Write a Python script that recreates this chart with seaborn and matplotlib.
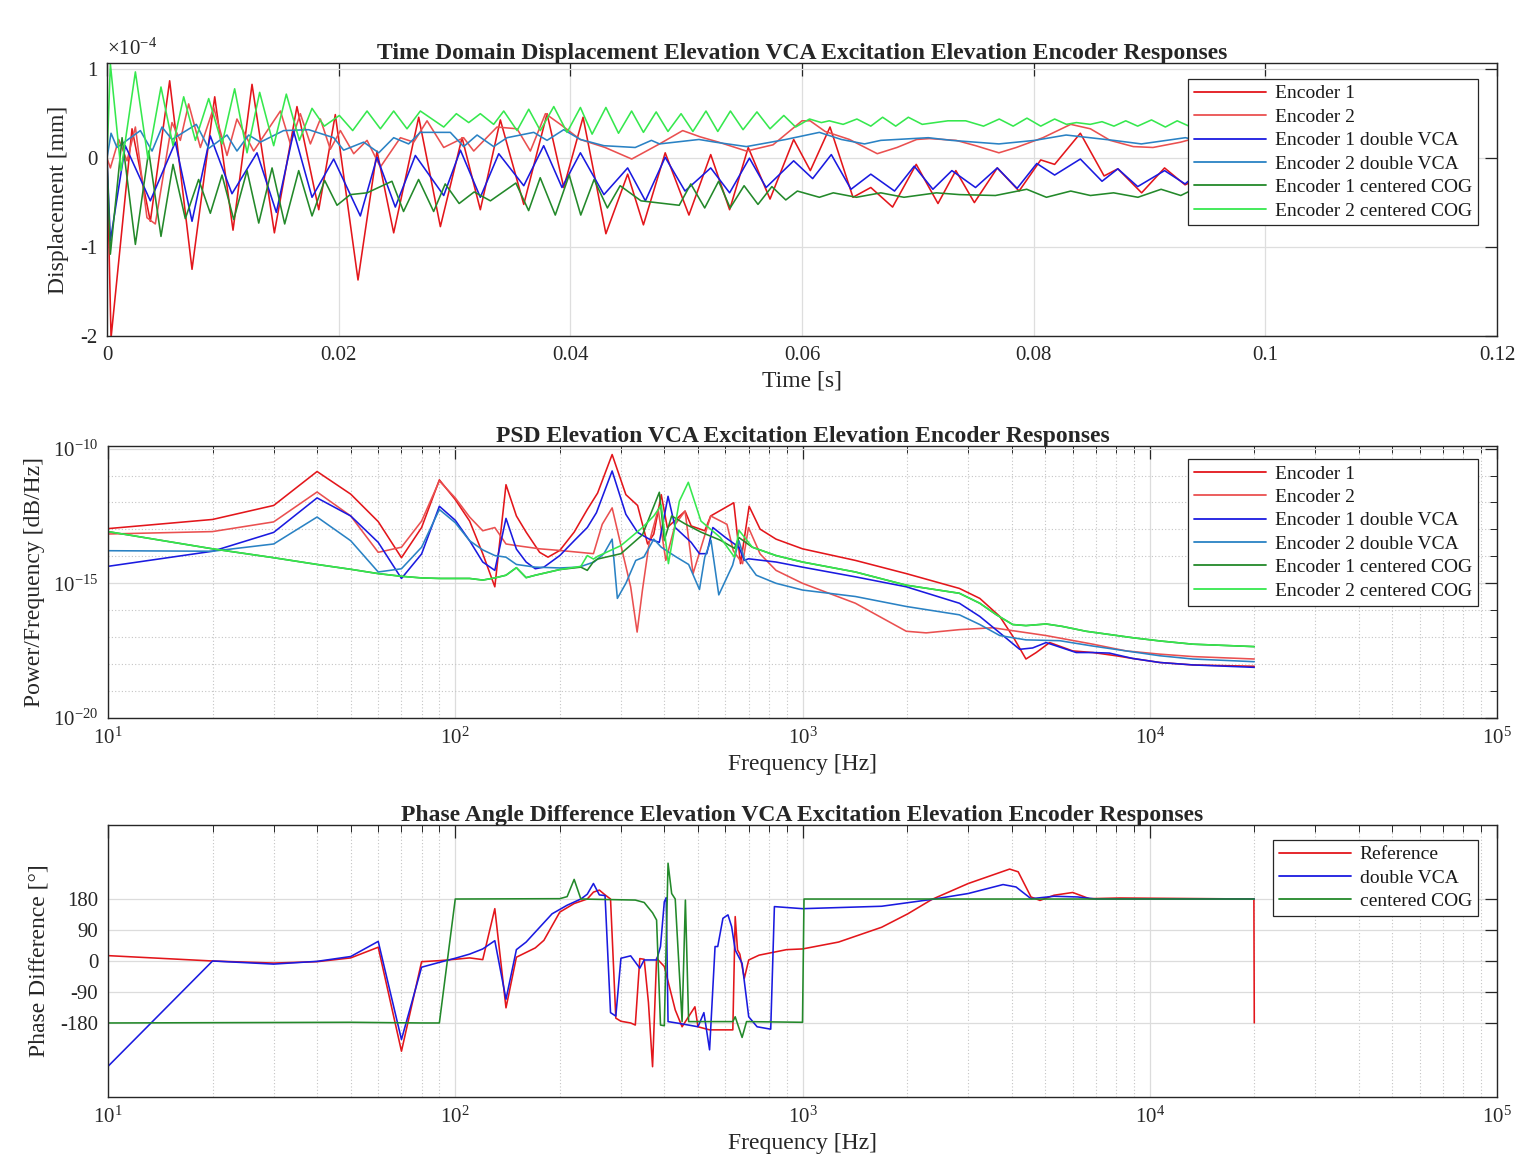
import numpy as np
import pandas as pd
import matplotlib
matplotlib.use("Agg")
import matplotlib.pyplot as plt
import matplotlib.ticker as mticker
from matplotlib.lines import Line2D
import seaborn as sns

# ---------------- data : time domain (t in ms, displacement in 1e-4 mm) ----------------
enc1_t = [0.0, 0.35, 2.16, 3.74, 5.41, 7.34, 9.30, 10.88, 12.52, 14.45, 16.40, 18.28, 19.71, 21.67, 23.31,
          24.75, 26.91, 28.78, 30.65, 32.23, 33.96, 35.98, 37.99, 39.43, 41.1, 43.07, 44.95, 46.31, 48.19,
          50.24, 52.12, 53.75, 55.36, 57.24, 59.28, 60.72, 62.42, 64.40, 65.94, 67.82, 69.86, 71.74, 73.28,
          74.88, 76.86, 78.74, 80.61, 81.81, 84.03, 86.08, 87.27, 89.32, 91.30, 93.07, 94.1]
enc1_v = [0.0, -2.02, 0.33, -0.71, 0.87, -1.25, 0.69, -0.81, 0.83, -0.84, 0.58, -0.58, 0.49, -1.37, 0.08,
          -0.84, 0.46, -0.77, 0.23, -0.58, 0.43, -0.52, 0.50, -0.33, 0.46, -0.85, -0.18, -0.75, 0.06,
          -0.64, 0.04, -0.58, 0.12, -0.46, 0.21, -0.14, 0.35, -0.44, -0.33, -0.55, -0.07, -0.51, -0.14,
          -0.50, -0.11, -0.37, -0.02, -0.07, 0.28, -0.20, -0.12, -0.39, -0.11, -0.30, -0.24]

enc2_t = [0, 0.29, 1.01, 1.73, 2.45, 3.45, 4.17, 5.61, 6.33, 7.05, 8.06, 9.21, 10.36, 11.22, 12.66, 14.97,
          15.83, 16.69, 17.56, 18.42, 19.28, 20.15, 21.30, 22.45, 23.60, 25.33, 26.48, 27.63, 29.07, 30.79,
          31.66, 33.67, 35.40, 36.55, 37.85, 39.14, 40.85, 43.0, 45.3, 47.7, 49.7, 51.2, 52.8, 55.2, 57.5,
          60.0, 60.7, 62.0, 64.1, 66.5, 68.2, 69.9, 71.0, 73.3, 75.0, 77.0, 78.5, 80.8, 83.2, 84.9, 86.6,
          88.6, 90.3, 92.7, 94.1]
enc2_v = [0, -0.11, 0.21, -0.03, 0.35, -0.67, -0.74, 0.40, 0.20, 0.61, 0.12, 0.57, 0.03, 0.44, 0.08, 0.53,
          0.16, 0.50, 0.16, 0.44, 0.10, 0.31, 0.05, 0.20, -0.10, 0.23, 0.18, 0.42, 0.12, 0.23,
          0.08, 0.35, 0.33, 0.08, 0.50, 0.38, 0.21, 0.12, -0.01, 0.16, 0.31, 0.24, 0.18, 0.08, 0.15,
          0.42, 0.42, 0.30, 0.21, 0.05, 0.12, 0.21, 0.22, 0.20, 0.14, 0.06, 0.12, 0.23, 0.38, 0.33, 0.20,
          0.13, 0.12, 0.18, 0.23]

enc1vca_t = [0, 0.29, 1.58, 3.74, 5.90, 7.34, 8.92, 10.79, 12.95, 14.62, 16.12, 17.70, 19.57, 21.87, 23.31,
             24.89, 26.62, 29.07, 30.51, 32.23, 33.82, 35.98, 37.70, 39.28, 40.87, 42.9, 44.95, 46.48, 48.19,
             49.9, 52.12, 53.75, 55.46, 56.9, 59.28, 60.92, 62.53, 64.23, 65.94, 67.99, 69.69, 71.3, 72.94,
             74.98, 76.86, 78.57, 80.27, 81.81, 84.03, 85.9, 87.27, 88.98, 91.3, 93.07, 94.1]
enc1vca_v = [0, -0.93, 0.14, -0.48, 0.18, -0.71, 0.25, -0.40, 0.06, -0.61, 0.30, -0.44, -0.01, -0.65, 0.01,
             -0.55, 0.03, -0.42, 0.09, -0.44, 0.05, -0.31, 0.14, -0.33, 0.06, -0.41, -0.11, -0.48, 0.01,
             -0.37, -0.11, -0.39, 0.0, -0.33, -0.03, -0.23, 0.04, -0.35, -0.18, -0.37, -0.09, -0.35, -0.14,
             -0.33, -0.11, -0.34, -0.06, -0.19, -0.01, -0.26, -0.12, -0.32, -0.14, -0.29, -0.18]

enc2vca_t = [0, 0.35, 0.86, 2.88, 3.89, 4.75, 5.61, 7.71, 8.78, 10.36, 11.22, 12.23, 13.24, 15.25, 17.41,
             19.57, 20.43, 22.16, 23.46, 24.75, 26.04, 27.05, 29.64, 30.79, 31.95, 33.38, 34.54, 36.84, 37.99,
             39.43, 40.87, 42.9, 45.6, 47.0, 47.7, 51.1, 52.5, 55.2, 58.6, 61.5, 63.4, 65.4, 66.8, 70.9, 72.9,
             77.0, 80.1, 82.8, 86.9, 89.3, 93.1, 94.1]
enc2vca_v = [0, 0.28, 0.12, 0.31, 0.08, 0.35, 0.21, 0.38, 0.11, 0.26, 0.08, 0.26, 0.18, 0.31, 0.32,
             0.23, 0.09, 0.18, 0.06, 0.23, 0.16, 0.29, 0.29, 0.13, 0.26, 0.13, 0.23, 0.29, 0.20,
             0.32, 0.21, 0.14, 0.12, 0.20, 0.16, 0.21, 0.18, 0.13, 0.21, 0.29, 0.21, 0.16, 0.20, 0.23, 0.20,
             0.16, 0.20, 0.26, 0.20, 0.16, 0.23, 0.20]

enc1cog_t = [0, 0.29, 1.30, 2.45, 3.60, 4.66, 5.70, 6.76, 7.91, 8.92, 9.93, 10.94, 12.09, 13.10, 14.25, 15.34,
             16.55, 17.70, 18.79, 19.86, 21.0, 22.45, 24.6, 25.6, 26.9, 28.2, 29.2, 30.4, 31.7, 33.1, 35.3,
             36.4, 37.4, 38.7, 39.9, 40.9, 42.05, 43.2, 44.3, 46.1, 49.4, 50.4, 51.6, 52.8, 53.8, 55.0, 56.2,
             57.4, 58.6, 59.6, 61.5, 62.7, 64.7, 66.8, 68.8, 71.6, 73.6, 76.7, 79.4, 81.1, 83.2, 84.9, 86.9,
             89.0, 91.0, 92.7, 93.8]
enc1cog_v = [0, -1.08, 0.23, -0.97, 0.08, -0.88, -0.07, -0.68, -0.24, -0.62, -0.19, -0.69, -0.14, -0.73, -0.11,
             -0.74, -0.14, -0.65, -0.25, -0.53, -0.41, -0.39, -0.26, -0.60, -0.24, -0.60, -0.29, -0.51, -0.38,
             -0.48, -0.28, -0.59, -0.22, -0.64, -0.19, -0.64, -0.24, -0.56, -0.31, -0.48, -0.53, -0.29, -0.56,
             -0.26, -0.56, -0.31, -0.52, -0.32, -0.47, -0.37, -0.44, -0.39, -0.44, -0.39, -0.44, -0.39, -0.41,
             -0.42, -0.35, -0.44, -0.37, -0.42, -0.39, -0.44, -0.35, -0.42, -0.35]

enc2cog_t = [0, 0.29, 1.21, 2.45, 3.54, 4.66, 5.70, 6.62, 7.63, 8.78, 9.93, 11.02, 12.09, 13.18, 14.39, 15.48,
             16.61, 17.70, 18.76, 20.06, 21.21, 22.45, 23.60, 24.75, 25.90, 27.05, 29.07, 30.16, 31.23, 32.23,
             33.38, 34.25, 35.40, 36.41, 37.41, 38.57, 39.72, 40.87, 41.88, 43.07, 44.16, 45.29, 46.31, 47.41,
             48.43, 49.56, 50.58, 51.71, 52.73, 53.82, 54.91, 56.11, 57.24, 58.43, 59.45, 60.65, 61.67, 62.35,
             63.55, 64.74, 65.94, 66.96, 68.09, 69.18, 70.38, 72.6, 74.13, 75.67, 77.03, 78.23, 79.42, 80.61,
             81.81, 82.83, 83.69, 84.88, 85.9, 86.93, 87.95, 88.98, 90.17, 91.37, 92.39, 93.41, 94.1]
enc2cog_v = [0, 1.06, -0.14, 0.97, -0.01, 0.80, 0.14, 0.69, 0.20, 0.67, 0.16, 0.78, 0.06, 0.74, 0.14, 0.72,
             0.20, 0.56, 0.36, 0.48, 0.31, 0.53, 0.33, 0.53, 0.33, 0.53, 0.35, 0.50, 0.40, 0.50,
             0.38, 0.53, 0.31, 0.55, 0.31, 0.58, 0.29, 0.57, 0.27, 0.57, 0.28, 0.53, 0.29, 0.52,
             0.30, 0.50, 0.30, 0.53, 0.30, 0.53, 0.32, 0.52, 0.33, 0.48, 0.35, 0.44, 0.40, 0.42,
             0.38, 0.44, 0.36, 0.46, 0.36, 0.46, 0.38, 0.42, 0.42, 0.36, 0.44, 0.36, 0.45, 0.36,
             0.44, 0.38, 0.40, 0.38, 0.41, 0.36, 0.42, 0.36, 0.43, 0.35, 0.42, 0.36, 0.39]

# ---------------- data : PSD (frequency Hz, log10 of PSD) ----------------
psd_enc1_f = [10, 20, 30, 40, 50, 60, 70, 80, 90, 100, 110, 120, 130, 140, 150, 160, 175, 185, 200, 220,
              240, 257, 283, 310, 335, 358, 373, 392, 408, 459, 478, 523, 544, 634, 663, 702, 755, 839, 1000, 1420,
              1990, 2830, 3240, 3700, 4030, 4400, 4710, 5150, 6000, 6860, 8000, 8930, 10700, 13300, 20000]
psd_enc1_log = [-12.97, -12.63, -12.11, -10.85, -11.69, -12.71, -14.05, -12.93, -11.16, -11.89,
                -12.69, -13.9, -15.13, -11.34, -12.5, -13.1, -13.85, -14.03, -13.78, -13.1,
                -12.26, -11.65, -10.22, -11.71, -12.11, -13.54, -13.17, -11.71, -12.93, -12.32,
                -12.87, -13.05, -12.5, -12.01, -14.27, -12.14, -12.99, -13.36, -13.72, -14.15,
                -14.64, -15.19, -15.56, -16.23, -16.96, -17.81, -17.57, -17.2, -17.51, -17.57,
                -17.69, -17.79, -17.94, -18.03, -18.08]

psd_enc2_f = [10, 20, 30, 40, 50, 60, 70, 80, 90, 100, 110, 120, 130, 140, 150, 175, 200, 250, 265, 283,
              320, 334, 346, 362, 384, 404, 430, 459, 484, 544, 606, 632, 672, 699, 755, 839, 1000, 1420, 1990, 2270,
              2830, 3530, 5030, 6860, 8550, 10700, 13300, 20000]
psd_enc2_log = [-13.17, -13.08, -12.72, -11.61, -12.5, -13.85, -13.66, -12.69, -11.2, -11.83,
                -12.54, -13.05, -12.93, -13.54, -13.6, -13.72, -13.78, -13.9, -12.81, -12.2,
                -15.13, -16.81, -15.25, -13.48, -12.26, -14.15, -12.81, -12.32, -14.64, -12.5,
                -12.81, -13.79, -14.27, -12.93, -13.91, -14.52, -15.0, -15.74, -16.78, -16.84,
                -16.72, -16.65, -16.94, -17.26, -17.51, -17.63, -17.72, -17.81]

psd_enc1vca_f = [10, 20, 30, 40, 50, 60, 70, 80, 90, 100, 110, 120, 130, 140, 150, 160, 170, 180, 200, 220,
                 240, 255, 283, 310, 335, 362, 387, 410, 430, 478, 505, 530, 552, 600, 656, 680, 699, 839, 1000, 1420,
                 1990, 2830, 3240, 3700, 4220, 4600, 5030, 6140, 6860, 7650, 8930, 10700, 13300, 20000]
psd_enc1vca_log = [-14.37, -13.81, -13.11, -11.83, -12.5, -13.48, -14.82, -13.91, -12.14, -12.66,
                   -13.42, -14.21, -14.52, -12.59, -13.73, -14.21, -14.46, -14.4, -13.97, -13.42,
                   -12.93, -12.38, -10.83, -12.44, -13.11, -13.36, -13.48, -11.77, -12.93, -13.48,
                   -13.9, -13.9, -12.93, -13.3, -13.66, -14.15, -14.09, -14.21, -14.4, -14.76,
                   -15.13, -15.74, -16.23, -16.84, -17.45, -17.4, -17.2, -17.57, -17.57, -17.59,
                   -17.79, -17.94, -18.03, -18.12]

psd_enc2vca_f = [10, 20, 30, 40, 50, 60, 70, 80, 90, 100, 110, 120, 130, 140, 150, 170, 200, 227, 251, 268,
                 283, 293, 310, 331, 349, 373, 392, 430, 470, 505, 523, 545, 574, 629, 656, 680, 736, 839, 1000, 1420,
                 1990, 2830, 3240, 3700, 4400, 5500, 6860, 8550, 10700, 13300, 20000]
psd_enc2vca_log = [-13.79, -13.81, -13.54, -12.54, -13.42, -14.58, -14.46, -13.66, -12.26, -12.75,
                   -13.42, -13.76, -13.97, -14.03, -14.3, -14.4, -14.43, -14.4, -14.21, -13.9,
                   -13.36, -15.56, -15.0, -14.15, -14.03, -13.36, -13.66, -14.0, -14.3, -15.23,
                   -14.03, -13.4, -15.43, -14.33, -13.42, -14.09, -14.7, -15.0, -15.25, -15.49,
                   -15.86, -16.17, -16.53, -16.94, -17.1, -17.13, -17.33, -17.51, -17.69, -17.81,
                   -17.91]

psd_enc1cog_f = [10, 20, 30, 40, 50, 60, 70, 80, 90, 100, 110, 120, 130, 140, 150, 160, 170, 200, 230, 240,
                 250, 257, 300, 346, 387, 400, 420, 460, 510, 580, 637, 656, 717, 839, 1000, 1420, 1990, 2830, 3240,
                 3620, 4030, 4400, 5030, 5600, 6550, 7650, 8930, 10700, 13300, 20000]
psd_enc1cog_log = [-13.08, -13.72, -14.05, -14.3, -14.48, -14.64, -14.74, -14.8, -14.82, -14.82,
                   -14.82, -14.88, -14.8, -14.7, -14.42, -14.79, -14.7, -14.49, -14.4, -14.52,
                   -14.2, -14.1, -13.9, -13.2, -11.62, -13.4, -12.5, -12.8, -13.1, -13.4,
                   -13.7, -13.3, -13.66, -13.97, -14.21, -14.58, -15.07, -15.37, -15.74, -16.17,
                   -16.53, -16.57, -16.51, -16.6, -16.78, -16.9, -17.02, -17.14, -17.26, -17.35]

psd_enc2cog_f = [10, 20, 30, 40, 50, 60, 70, 80, 90, 100, 110, 120, 130, 140, 150, 160, 170, 200, 230, 240,
                 250, 257, 300, 346, 373, 392, 411, 442, 469, 510, 580, 637, 656, 717, 839, 1000, 1420, 1990, 2830,
                 3240, 3620, 4030, 4400, 5030, 5600, 6550, 7650, 8930, 10700, 13300, 20000]
psd_enc2cog_log = [-13.08, -13.72, -14.05, -14.3, -14.48, -14.64, -14.74, -14.8, -14.82, -14.82,
                   -14.82, -14.88, -14.8, -14.7, -14.42, -14.79, -14.7, -14.49, -14.37, -13.97,
                   -14.1, -14.0, -13.6, -12.93, -12.5, -12.1, -14.27, -11.95, -11.25, -12.69,
                   -13.3, -14.03, -13.03, -13.66, -13.97, -14.21, -14.58, -15.07, -15.37, -15.74,
                   -16.17, -16.53, -16.57, -16.51, -16.6, -16.78, -16.9, -17.02, -17.14, -17.26,
                   -17.35]

# ---------------- data : phase difference (frequency Hz, degrees) ----------------
ph_ref_f = [10, 20, 30, 40, 50, 60, 70, 80, 90, 100, 110, 120, 130, 140, 150, 170, 180, 200, 220, 240,
            250, 260, 270, 280, 290, 300, 320, 330, 340, 350, 360, 370, 380, 400, 430, 450, 490, 500, 540, 630,
            640, 650, 660, 680, 700, 750, 900, 1000, 1270, 1690, 2010, 2360, 3000, 3950, 4180, 4550, 4830, 5300,
            6000, 6700, 8200, 19950, 20000]
ph_ref_deg = [15.6, 0, -6, -2, 9, 40, -262, -2, 1, 5, 9, 4, 152, -136, 11, 38, 60, 142, 167, 180,
              200, 206, 192, 180, -166, -175, -180, -186, 7, 5, -120, -307, 8, -16, -142, -191, -133, -191, -200, -200,
              129, 32, 20, -50, 3, 17, 33, 35, 55, 98, 137, 179, 225, 267, 259, 186, 176, 191,
              199, 181, 183, 180, -180]

ph_vca_f = [10, 20, 30, 40, 50, 60, 70, 80, 90, 100, 110, 120, 130, 140, 150, 160, 170, 190, 210, 230,
            240, 250, 260, 270, 280, 290, 300, 320, 340, 350, 380, 390, 400, 405, 410, 440, 500, 520, 540, 560,
            570, 590, 610, 625, 640, 670, 700, 740, 810, 830, 1000, 1690, 2360, 3000, 3780, 4120, 4550, 5300,
            6200, 7000, 20000]
ph_vca_deg = [-306, 0, -9, -1, 13, 57, -228, -18, -4, 8, 20, 35, 59, -111, 33, 55, 84, 137, 162, 180,
              194, 225, 192, 190, -150, -160, 8, 15, -21, 3, 3, 42, 172, 184, -176, -181, -191, -150, -258, 42,
              42, 124, 134, 100, 32, -7, -162, -191, -198, 158, 152, 159, 179, 196, 222, 215, 181, 188,
              186, 180, 180]

ph_cog_f = [10, 50, 80, 90, 100, 200, 210, 220, 230, 330, 350, 370, 380, 390, 400, 410, 420, 430, 450, 460,
            470, 630, 640, 670, 690, 1000, 1010, 20000]
ph_cog_deg = [-180, -178, -180, -180, 180, 181, 187, 237, 180, 177, 170, 140, 119, -186, -188, 284, 196, 180,
              -176, 177, -176, -176, -162, -222, -176, -178, 180, 180]

enc_labels = ["Encoder 1", "Encoder 2", "Encoder 1 double VCA", "Encoder 2 double VCA",
              "Encoder 1 centered COG", "Encoder 2 centered COG"]
enc_colors = ["#E3161B", "#EA5050", "#1A1AE0", "#2A82C4", "#23892A", "#36E84E"]
phase_labels = ["Reference", "double VCA", "centered COG"]
phase_colors = ["#E3161B", "#1A1AE0", "#23892A"]

# ---------------- build tables ----------------
time_series = [(enc1_t, enc1_v), (enc2_t, enc2_v), (enc1vca_t, enc1vca_v), (enc2vca_t, enc2vca_v),
               (enc1cog_t, enc1cog_v), (enc2cog_t, enc2cog_v)]
td = pd.concat([pd.DataFrame({"t": np.array(t) / 1000.0, "d": np.array(v) * 1e-4, "series": lab})
                for (t, v), lab in zip(time_series, enc_labels)], ignore_index=True)

psd_series = [(psd_enc1_f, psd_enc1_log), (psd_enc2_f, psd_enc2_log), (psd_enc1vca_f, psd_enc1vca_log),
              (psd_enc2vca_f, psd_enc2vca_log), (psd_enc1cog_f, psd_enc1cog_log), (psd_enc2cog_f, psd_enc2cog_log)]
psd = pd.concat([pd.DataFrame({"f": f, "p": 10.0 ** np.array(p), "series": lab})
                 for (f, p), lab in zip(psd_series, enc_labels)], ignore_index=True)

ph_series = [(ph_ref_f, ph_ref_deg), (ph_vca_f, ph_vca_deg), (ph_cog_f, ph_cog_deg)]
ph = pd.concat([pd.DataFrame({"f": f, "deg": d, "series": lab})
                for (f, d), lab in zip(ph_series, phase_labels)], ignore_index=True)

# ---------------- style ----------------
sns.set_theme(style="white")
plt.rcParams["font.family"] = ["Liberation Serif", "DejaVu Serif"]
plt.rcParams["mathtext.fontset"] = "custom"
plt.rcParams["mathtext.rm"] = "Liberation Serif"
plt.rcParams["mathtext.it"] = "Liberation Serif:italic"
plt.rcParams["mathtext.bf"] = "Liberation Serif:bold"
plt.rcParams["axes.unicode_minus"] = False

W, H = 1515, 1167
fig = plt.figure(figsize=(W / 100, H / 100), dpi=100)
fig.patch.set_facecolor("white")


def axes_px(left, top, right, bottom):
    return fig.add_axes([left / W, 1 - bottom / H, (right - left) / W, (bottom - top) / H])


ax1 = axes_px(107, 63, 1497, 336)
ax2 = axes_px(108, 446, 1497, 718)
ax3 = axes_px(108, 825, 1497, 1097)

FRAME = "#262626"
TICK_FS = 15
LABEL_FS = 17
TITLE_FS = 17
LEG_FS = 14


def style(ax):
    for s in ax.spines.values():
        s.set_color(FRAME)
        s.set_linewidth(1.0)
    ax.tick_params(which="both", direction="in", top=True, right=True, color=FRAME,
                   labelcolor="#262626", labelsize=TICK_FS, pad=7)
    ax.tick_params(which="major", length=9, width=0.9)
    ax.tick_params(which="minor", length=5, width=0.7)
    ax.set_axisbelow(True)


def make_legend(ax, labels, anchor):
    handles = [Line2D([0], [0], color=l.get_color(), lw=1.3) for l in ax.get_lines()[:len(labels)]]
    leg = ax.legend(handles, labels, loc="upper right", bbox_to_anchor=anchor, frameon=True, fancybox=False,
                    framealpha=1, edgecolor=FRAME, fontsize=LEG_FS, handlelength=3.7, handletextpad=0.45,
                    labelspacing=0.3, borderpad=0.3, borderaxespad=0)
    leg.get_frame().set_linewidth(0.9)
    for t in leg.get_texts():
        t.set_color("#1a1a1a")


LW = 1.15

# ---- panel 1 : time domain ----
sns.lineplot(data=td, x="t", y="d", hue="series", hue_order=enc_labels, palette=enc_colors,
             estimator=None, sort=False, lw=LW, legend=False, ax=ax1)
ax1.set_xlim(0, 0.12)
ax1.set_ylim(-2.0e-4, 1.07e-4)
ax1.set_xticks([0, 0.02, 0.04, 0.06, 0.08, 0.1, 0.12])
ax1.xaxis.set_major_formatter(mticker.FuncFormatter(lambda v, p: "%g" % v))
ax1.set_yticks([-2e-4, -1e-4, 0, 1e-4])
ax1.set_yticklabels(["-2", "-1", "0", "1"])
ax1.grid(True, which="major", color="#dedede", lw=0.9)
style(ax1)
ax1.set_xlabel("Time [s]", fontsize=LABEL_FS, labelpad=4)
ax1.set_ylabel("Displacement [mm]", fontsize=LABEL_FS, labelpad=8)
ax1.set_title("Time Domain Displacement Elevation VCA Excitation Elevation Encoder Responses",
              fontsize=TITLE_FS, fontweight="bold", pad=3)
ax1.text(0.0, 1.012, r"$\times$10$^{-4}$", transform=ax1.transAxes, ha="left", va="bottom", fontsize=15)
make_legend(ax1, enc_labels, (0.9863, 0.9414))


def log_freq_axis(ax):
    ax.set_xscale("log")
    ax.set_xlim(10, 1e5)
    ax.xaxis.set_major_locator(mticker.LogLocator(base=10, numticks=10))
    ax.xaxis.set_minor_locator(mticker.LogLocator(base=10, subs=np.arange(2, 10), numticks=20))
    ax.xaxis.set_minor_formatter(mticker.NullFormatter())
    ax.xaxis.set_major_formatter(mticker.FuncFormatter(lambda v, p: r"$10^{%d}$" % round(np.log10(v))))


# ---- panel 2 : PSD ----
sns.lineplot(data=psd, x="f", y="p", hue="series", hue_order=enc_labels, palette=enc_colors,
             estimator=None, sort=False, lw=LW, legend=False, ax=ax2)
log_freq_axis(ax2)
ax2.set_yscale("log")
ax2.set_ylim(1e-20, 1.25e-10)
ax2.yaxis.set_major_locator(mticker.FixedLocator([1e-20, 1e-15, 1e-10]))
ax2.yaxis.set_minor_locator(mticker.FixedLocator([10.0 ** -k for k in range(11, 20) if k != 15]))
ax2.yaxis.set_minor_formatter(mticker.NullFormatter())
ax2.yaxis.set_major_formatter(mticker.FuncFormatter(lambda v, p: r"$10^{%d}$" % round(np.log10(v))))
ax2.grid(True, which="major", color="#dcdcdc", lw=0.9)
ax2.grid(True, which="minor", color="#c4c4c4", lw=0.8, ls=(0, (1, 2)))
style(ax2)
ax2.set_xlabel("Frequency [Hz]", fontsize=LABEL_FS, labelpad=4)
ax2.set_ylabel("Power/Frequency [dB/Hz]", fontsize=LABEL_FS, labelpad=6)
ax2.set_title("PSD Elevation VCA Excitation Elevation Encoder Responses",
              fontsize=TITLE_FS, fontweight="bold", pad=3)
make_legend(ax2, enc_labels, (0.9863, 0.952))

# ---- panel 3 : phase ----
sns.lineplot(data=ph, x="f", y="deg", hue="series", hue_order=phase_labels, palette=phase_colors,
             estimator=None, sort=False, lw=LW, legend=False, ax=ax3)
log_freq_axis(ax3)
ax3.set_ylim(-395, 395)
ax3.set_yticks([-180, -90, 0, 90, 180])
ax3.set_yticklabels(["-180", "-90", "0", "90", "180"])
ax3.grid(True, which="major", color="#dcdcdc", lw=0.9)
ax3.grid(True, which="minor", axis="x", color="#c4c4c4", lw=0.8, ls=(0, (1, 2)))
style(ax3)
ax3.set_xlabel("Frequency [Hz]", fontsize=LABEL_FS, labelpad=4)
ax3.set_ylabel("Phase Difference [°]", fontsize=LABEL_FS, labelpad=8)
ax3.set_title("Phase Angle Difference Elevation VCA Excitation Elevation Encoder Responses",
              fontsize=TITLE_FS, fontweight="bold", pad=3)
make_legend(ax3, phase_labels, (0.9863, 0.945))

fig.savefig("out.png", dpi=100, facecolor="white")
